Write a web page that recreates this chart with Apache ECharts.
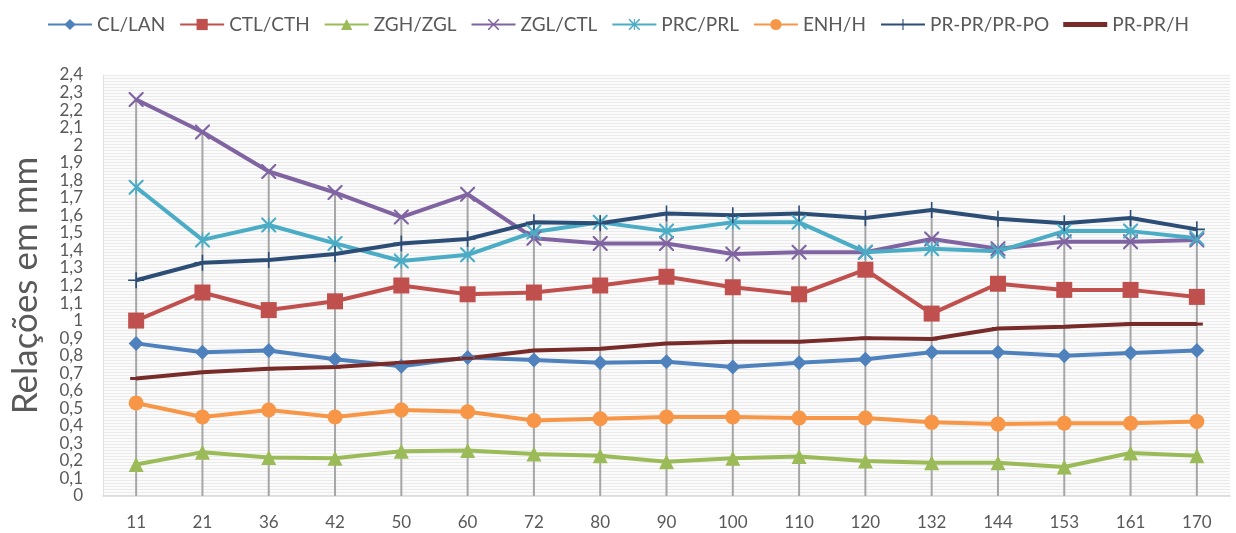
<!DOCTYPE html>
<html>
<head>
<meta charset="utf-8">
<script src="https://cdn.jsdelivr.net/npm/echarts@6/dist/echarts.min.js"></script>
<style>
  html, body { margin: 0; padding: 0; background: #fff; }
  #chart { width: 1236px; height: 533px; }
</style>
</head>
<body>
<div id="chart"></div>
<script>
const categories = ['11', '21', '36', '42', '50', '60', '72', '80', '90', '100', '110', '120', '132', '144', '153', '161', '170'];

const clLan = [0.87, 0.82, 0.83, 0.78, 0.74, 0.79, 0.775, 0.76, 0.765, 0.735, 0.76, 0.78, 0.82, 0.82, 0.80, 0.815, 0.83];
const ctlCth = [1.00, 1.16, 1.06, 1.11, 1.20, 1.15, 1.16, 1.20, 1.25, 1.19, 1.15, 1.29, 1.04, 1.21, 1.175, 1.175, 1.135];
const zghZgl = [0.18, 0.25, 0.22, 0.215, 0.255, 0.26, 0.24, 0.23, 0.195, 0.215, 0.225, 0.20, 0.19, 0.19, 0.165, 0.245, 0.23];
const zglCtl = [2.26, 2.075, 1.85, 1.73, 1.59, 1.72, 1.47, 1.44, 1.44, 1.38, 1.39, 1.39, 1.465, 1.41, 1.45, 1.45, 1.46];
const prcPrl = [1.76, 1.46, 1.545, 1.44, 1.34, 1.375, 1.505, 1.56, 1.51, 1.56, 1.56, 1.39, 1.41, 1.395, 1.51, 1.51, 1.47];
const enhH = [0.53, 0.45, 0.49, 0.45, 0.49, 0.48, 0.43, 0.44, 0.45, 0.45, 0.445, 0.445, 0.42, 0.41, 0.415, 0.415, 0.425];
const prPrPo = [1.23, 1.33, 1.345, 1.38, 1.44, 1.465, 1.56, 1.555, 1.61, 1.60, 1.61, 1.585, 1.63, 1.58, 1.555, 1.585, 1.52];
const prPrH = [0.67, 0.705, 0.725, 0.735, 0.76, 0.785, 0.83, 0.84, 0.87, 0.88, 0.88, 0.90, 0.895, 0.955, 0.965, 0.98, 0.98];

const seriesDefs = [
  { name: 'CL/LAN', data: clLan, color: '#4F81BD', symbol: 'diamond', size: 15 },
  { name: 'CTL/CTH', data: ctlCth, color: '#C0504D', symbol: 'rect', size: 16 },
  { name: 'ZGH/ZGL', data: zghZgl, color: '#9BBB59', symbol: 'triangle', size: 15 },
  { name: 'ZGL/CTL', data: zglCtl, color: '#8064A2',
    symbol: 'path://M0,0 L2,0 L10,8 L18,0 L20,0 L20,2 L12,10 L20,18 L20,20 L18,20 L10,12 L2,20 L0,20 L0,18 L8,10 L0,2 Z', size: 15 },
  { name: 'PRC/PRL', data: prcPrl, color: '#4BACC6',
    symbol: 'path://M0,0 L2,0 L10,8 L18,0 L20,0 L20,2 L12,10 L20,18 L20,20 L18,20 L10,12 L2,20 L0,20 L0,18 L8,10 L0,2 Z M9,0 L11,0 L11,20 L9,20 Z', size: 15 },
  { name: 'ENH/H', data: enhH, color: '#F79646', symbol: 'circle', size: 15 },
  { name: 'PR-PR/PR-PO', data: prPrPo, color: '#2C4D75',
    symbol: 'path://M9,0 L11,0 L11,20 L9,20 Z M0,9 L20,9 L20,11 L0,11 Z', size: 16 },
  { name: 'PR-PR/H', data: prPrH, color: '#772C2A', symbol: 'path://M0,0 L20,0 L20,4 L0,4 Z', size: [12, 3],
    legendIcon: 'path://M0,0 L44,0 L44,5 L0,5 Z' }
];

// high line per category, from 0 to the top value
const dropTop = categories.map((c, i) => Math.max(...seriesDefs.map(s => s.data[i])));

// striped plot background
const stripe = document.createElement('canvas');
stripe.width = 4;
stripe.height = 3;
const sctx = stripe.getContext('2d');
sctx.fillStyle = '#fbfbfb';
sctx.fillRect(0, 0, 4, 3);
sctx.fillStyle = '#ebebeb';
sctx.fillRect(0, 0, 4, 1);

const myChart = echarts.init(document.getElementById('chart'));

const series = [{
  name: 'drop',
  type: 'bar',
  data: dropTop,
  barWidth: 2,
  silent: true,
  itemStyle: { color: '#a6a6a6' },
  z: 1
}];

seriesDefs.forEach(s => {
  series.push({
    name: s.name,
    type: 'line',
    data: s.data,
    symbol: s.symbol,
    symbolSize: s.size,
    showSymbol: true,
    lineStyle: { color: s.color, width: 4 },
    itemStyle: { color: s.color },
    z: 3
  });
});

myChart.setOption({
  animation: false,
  textStyle: { fontFamily: 'Lato' },
  legend: {
    data: seriesDefs.map(s => s.legendIcon ? { name: s.name, icon: s.legendIcon } : s.name),
    top: 10,
    left: 'center',
    itemWidth: 44,
    itemHeight: 14,
    itemGap: 14,
    textStyle: { fontSize: 19, color: '#595959', fontFamily: 'Lato' }
  },
  grid: {
    left: 103,
    right: 6,
    top: 75,
    bottom: 37,
    show: true,
    borderWidth: 0,
    backgroundColor: { image: stripe, repeat: 'repeat' }
  },
  xAxis: {
    type: 'category',
    data: categories,
    axisLine: { lineStyle: { color: '#d9d9d9', width: 1.5 } },
    axisTick: { show: false },
    axisLabel: { color: '#595959', fontSize: 17, margin: 18, fontFamily: 'Lato' }
  },
  yAxis: {
    type: 'value',
    min: 0,
    max: 2.4,
    interval: 0.1,
    name: 'Relações em mm',
    nameLocation: 'middle',
    nameRotate: 90,
    nameGap: 60,
    nameTextStyle: { fontSize: 35, color: '#595959', fontFamily: 'Lato' },
    axisLine: { show: true, lineStyle: { color: '#e0e0e0' } },
    axisTick: { show: false },
    splitLine: { show: false },
    axisLabel: {
      color: '#595959',
      fontSize: 17,
      margin: 20,
      fontFamily: 'Lato',
      formatter: v => String(+v.toFixed(1)).replace('.', ',')
    }
  },
  series: series
});
</script>
</body>
</html>
